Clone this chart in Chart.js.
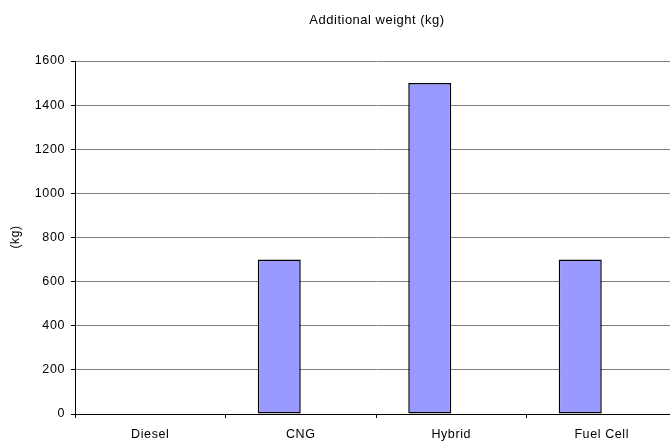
<!DOCTYPE html>
<html>
<head>
<meta charset="utf-8">
<script src="https://cdn.jsdelivr.net/npm/chart.js@4/dist/chart.umd.min.js"></script>
<style>
  html, body { margin: 0; padding: 0; background: #fff; overflow: hidden; }
  #wrap { width: 670px; height: 446px; overflow: hidden; }
</style>
</head>
<body>
<div id="wrap"><canvas id="weightChart" width="690" height="446"></canvas></div>
<script>
const categories = ['Diesel', 'CNG', 'Hybrid', 'Fuel Cell'];
const additionalWeight = [0, 700, 1500, 700];
const emptySeries = [null, null, null, null]; // second (blank) series in the original sheet
const yTicks = [0, 200, 400, 600, 800, 1000, 1200, 1400, 1600];

const FONT = "'Liberation Sans', Arial, sans-serif";

// slightly wider text, like the original export
const spacing = {
    id: 'spacing',
    beforeDraw(chart) { chart.ctx.letterSpacing = '0.6px'; }
};

// Title and y-axis caption drawn as text
const captions = {
    id: 'captions',
    afterDraw(chart) {
        const c = chart.ctx;
        c.save();
        c.fillStyle = '#000';
        c.letterSpacing = '0.5px';
        c.font = '13px ' + FONT;
        c.textAlign = 'center';
        c.textBaseline = 'alphabetic';
        c.fillText('Additional weight (kg)', 377, 24);
        c.letterSpacing = '0.6px';
        c.font = '12px ' + FONT;
        c.translate(19, 237);
        c.rotate(-Math.PI / 2);
        c.fillText('(kg)', 0, 0);
        c.restore();
    }
};

const ctx = document.getElementById('weightChart').getContext('2d');
new Chart(ctx, {
    type: 'bar',
    data: {
        labels: categories,
        datasets: [{
            label: 'Additional weight',
            data: additionalWeight,
            backgroundColor: '#9999ff',
            borderColor: '#000',
            borderWidth: 1.5,
            borderSkipped: false
        }, {
            label: '',
            data: emptySeries
        }]
    },
    options: {
        responsive: false,
        animation: false,
        layout: { padding: { top: 61, right: 13, left: 0, bottom: 0 } },
        datasets: {
            bar: { categoryPercentage: 2 / 3.5, barPercentage: 1 }
        },
        plugins: {
            legend: { display: false },
            title: { display: false },
            tooltip: { enabled: false }
        },
        scales: {
            x: {
                afterFit(scale) { scale.height = 32; },
                grid: {
                    offset: true,
                    drawOnChartArea: false,
                    drawTicks: true,
                    tickLength: 4,
                    color: '#000'
                },
                border: { color: '#000', width: 1 },
                ticks: { color: '#000', font: { family: FONT, size: 12.5 }, padding: 9, maxRotation: 0 }
            },
            y: {
                min: 0,
                max: 1600,
                afterFit(scale) { scale.width = 75; },
                afterBuildTicks(scale) { scale.ticks = yTicks.map(v => ({ value: v })); },
                grid: {
                    color: '#808080',
                    lineWidth: 1,
                    tickLength: 4,
                    tickColor: '#000'
                },
                border: { color: '#000', width: 1 },
                ticks: {
                    color: '#000',
                    font: { family: FONT, size: 12.5 },
                    padding: 6,
                    callback: v => String(v)
                }
            }
        }
    },
    plugins: [spacing, captions]
});
</script>
</body>
</html>
